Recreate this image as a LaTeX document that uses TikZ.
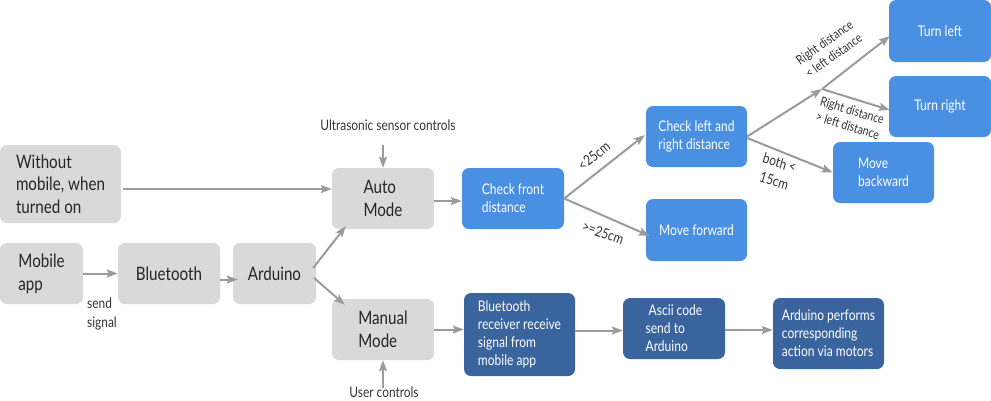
\documentclass[tikz,border=0pt]{standalone}
\usepackage{fontspec}
\setmainfont{Lato}[FakeStretch=0.82]
\usetikzlibrary{arrows.meta}
\definecolor{gfill}{HTML}{D9D9D9}
\definecolor{bfill}{HTML}{4A90E2}
\definecolor{dfill}{HTML}{3A649E}
\definecolor{arrc}{HTML}{9B9B9B}
\definecolor{gtext}{HTML}{262626}
\definecolor{ltext}{HTML}{333333}
\tikzset{
  boxbase/.style={rounded corners=7pt, inner sep=0pt, align=left},
  gbox/.style={boxbase, fill=gfill, text=gtext, font=\fontsize{18.5}{22.7}\selectfont},
  bbox/.style={boxbase, fill=bfill, text=white, font=\fontsize{14.7}{18}\selectfont},
  dbox/.style={boxbase, fill=dfill, text=white, font=\fontsize{14.7}{18}\selectfont},
  arr/.style={draw=arrc, line width=2pt, -{Stealth[length=11pt,width=8pt,inset=2pt]}},
  lbl/.style={text=ltext, inner sep=0pt, align=center, font=\fontsize{14.5}{19}\selectfont},
  slbl/.style={text=ltext, inner sep=0pt, align=center, font=\fontsize{13}{16}\selectfont}
}
\begin{document}
\begin{tikzpicture}[x=1pt,y=-1pt]
\useasboundingbox (0,0) rectangle (991,400);
% gray boxes
\node[gbox, minimum width=121pt, minimum height=78pt] (without) at (60.5,184) {Without\\mobile, when\\turned on};
\node[gbox, minimum width=83pt, minimum height=61pt] (mobile) at (41.5,273.5) {Mobile\\app};
\node[gbox, minimum width=102pt, minimum height=61pt] (bt) at (169,273.5) {Bluetooth};
\node[gbox, minimum width=83pt, minimum height=61pt] (ard) at (274.5,273.5) {Arduino};
\node[gbox, minimum width=102pt, minimum height=61pt] (auto) at (383,198.5) {Auto\\Mode};
\node[gbox, minimum width=102pt, minimum height=61pt] (manual) at (383,329.5) {Manual\\Mode};
% blue boxes
\node[bbox, minimum width=102pt, minimum height=61pt] (cf) at (513,198.5) {Check front\\distance};
\node[bbox, minimum width=101pt, minimum height=61pt] (cl) at (696.5,136.5) {Check left and\\right distance};
\node[bbox, minimum width=101pt, minimum height=62pt] (mf) at (696.5,230) {Move forward};
\node[bbox, minimum width=102pt, minimum height=62pt] (tl) at (940,31) {Turn left};
\node[bbox, minimum width=102pt, minimum height=61pt] (tr) at (940,106.5) {Turn right};
\node[bbox, minimum width=101pt, minimum height=61pt] (mb) at (883.5,172.5) {Move\\backward};
% dark boxes
\node[dbox, minimum width=111pt, minimum height=83pt] (br) at (519.5,334.5) {Bluetooth\\receiver receive\\signal from\\mobile app};
\node[dbox, minimum width=102pt, minimum height=61pt] (ascii) at (674,328.5) {\ Ascii code\\send to\\Arduino};
\node[dbox, minimum width=111pt, minimum height=71pt] (ap) at (828.5,333.5) {Arduino performs\\corresponding\\action via motors};
% free labels
\node[lbl] (us) at (388,125) {Ultrasonic sensor controls};
\node[lbl] (uc) at (384,392) {User controls};
\node[lbl, align=left, anchor=north west] (ss) at (87,298) {send\\signal};
% connectors
\draw[arr] ([shift={(2,5)}]without.east) -- ([yshift=-5pt]without.east -| auto.west);
\draw[arr] (mobile.east) -- (bt.west);
\draw[arr] ([yshift=-6pt]bt.east) -- ([xshift=5pt,yshift=-6pt]ard.west);
\draw[arr] ([shift={(-3,-5.5)}]ard.east) -- ([shift={(14,-3)}]auto.south west);
\draw[arr] ([shift={(-2,4.5)}]ard.east) -- ([shift={(13,6)}]manual.north west);
\draw[arr] ([yshift=-14pt]us.south -| auto.north) -- (auto.north);
\draw[arr] ([yshift=-2pt]uc.north -| manual.south) -- (manual.south);
\draw[arr] ([yshift=-2.5pt]auto.east) -- ([yshift=-2.5pt]auto.east -| cf.west);
\draw[arr] (manual.east) -- (manual.east -| br.west);
\draw[arr] ([yshift=4pt]br.east) -- ([yshift=4pt]br.east -| ascii.west);
\draw[arr] ([yshift=-1.5pt]ascii.east) -- ([yshift=-1.5pt]ascii.east -| ap.west);
\draw[arr] (cf.east) -- ([shift={(-1,-1.5)}]cl.west);
\draw[arr] (cf.east) -- ([shift={(4,6)}]mf.west);
\coordinate (j) at (822,89);
\draw[arr] (cl.east) -- (j);
\draw[arr] (j) -- ([shift={(1,5)}]tl.west);
\draw[arr] (j) -- ([shift={(1,3.5)}]tr.west);
\draw[arr] ([yshift=-1.5pt]cl.east) -- (mb.west);
% edge labels
\node[lbl, rotate=38] (l1) at (594,156) {<25cm};
\node[lbl, rotate=-20] (l2) at (603,233) {>=25cm};
\node[slbl, rotate=35] (l3) at (829,49) {Right distance\\< left distance};
\node[slbl, rotate=-17] (l4) at (850,118) {Right distance\\> left distance};
\node[lbl, rotate=-17] (l5) at (777,172) {both <\\15cm};
\end{tikzpicture}
\end{document}
